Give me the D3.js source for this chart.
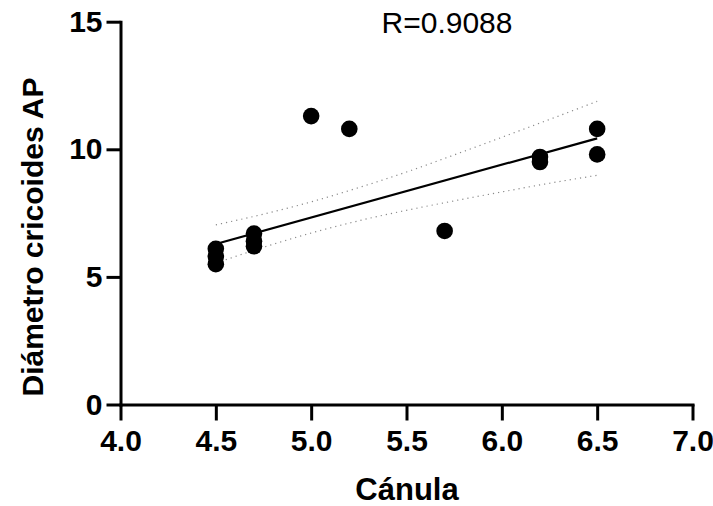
<!DOCTYPE html>
<html>
<head>
<meta charset="utf-8">
<script src="https://cdn.jsdelivr.net/npm/d3@7"></script>
<style>
  body { margin: 0; background: #fff; }
  .axis path, .axis line { stroke: #000; stroke-width: 3px; }
  .axis text { font-family: "Liberation Sans", Arial, sans-serif; font-weight: bold; font-size: 30px; fill: #000; }
</style>
</head>
<body>
<script>
// data
var canula = [4.5, 4.5, 4.5, 4.7, 4.7, 4.7, 5.0, 5.2, 5.7, 6.2, 6.2, 6.5, 6.5]
var diametro = [6.1, 5.8, 5.5, 6.7, 6.4, 6.2, 11.3, 10.8, 6.8, 9.7, 9.5, 10.8, 9.8]

// fitted line and confidence band as drawn
var fit_x = [4.5, 6.5]
var fit_y = [6.29, 10.43]
var band_x = [4.5, 4.75, 5.0, 5.25, 5.5, 5.75, 6.0, 6.25, 6.5]
var band_upper = [7.04, 7.46, 7.94, 8.50, 9.11, 9.78, 10.47, 11.17, 11.88]
var band_lower = [5.54, 6.16, 6.72, 7.20, 7.61, 7.98, 8.33, 8.67, 8.98]

var x_ticks = [4.0, 4.5, 5.0, 5.5, 6.0, 6.5, 7.0]
var y_ticks = [0, 5, 10, 15]
var r_label = 'R=0.9088'

function plot_it() {
    var svgWidth = 713, svgHeight = 506
    var left = 120.5, right = 692.5, top = 21.7, bottom = 404.5
    var font = '"Liberation Sans", Arial, sans-serif'

    var svg = d3.select('body').append('svg').attr('width', svgWidth).attr('height', svgHeight).attr('id', 'svg0')

    var scale_x = d3.scaleLinear().domain([4, 7]).range([left, right])
    var scale_y = d3.scaleLinear().domain([0, 15]).range([bottom, top])

    // confidence band, dotted
    var band_line = d3.line().x(d => scale_x(d[0])).y(d => scale_y(d[1])).curve(d3.curveMonotoneX)
    ;[band_upper, band_lower].forEach(vals => {
        svg.append('path')
            .attr('d', band_line(band_x.map((x, i) => [x, vals[i]])))
            .attr('fill', 'none').attr('stroke', '#8a8a8a')
            .attr('stroke-width', 1.2).attr('stroke-dasharray', '1.2,4')
    })

    // regression line
    svg.append('path')
        .attr('d', d3.line().x(d => scale_x(d[0])).y(d => scale_y(d[1]))(fit_x.map((x, i) => [x, fit_y[i]])))
        .attr('fill', 'none').attr('stroke', '#000').attr('stroke-width', 2.2)

    // points
    svg.selectAll('.pt').data(canula).enter().append('circle')
        .attr('class', 'pt')
        .attr('cx', d => scale_x(d))
        .attr('cy', (d, i) => scale_y(diametro[i]))
        .attr('r', 8.3).attr('fill', '#000')

    // axes
    svg.append('g').attr('class', 'axis').attr('transform', 'translate(0,' + bottom + ')')
        .call(d3.axisBottom(scale_x).tickValues(x_ticks).tickFormat(d3.format('.1f')).tickSizeInner(16).tickSizeOuter(0).tickPadding(9))
    svg.append('g').attr('class', 'axis').attr('transform', 'translate(' + left + ',0)')
        .call(d3.axisLeft(scale_y).tickValues(y_ticks).tickFormat(d3.format('d')).tickSizeInner(14).tickSizeOuter(0).tickPadding(4))
    svg.selectAll('.axis .domain').attr('stroke-linecap', 'square')

    // titles
    svg.append('text').text('Cánula')
        .attr('x', 407).attr('y', 500)
        .attr('text-anchor', 'middle')
        .style('font-family', font).style('font-weight', 'bold').style('font-size', '31px')

    svg.append('text').text('Diámetro cricoides AP')
        .attr('transform', 'translate(43,237) rotate(-90)')
        .attr('text-anchor', 'middle')
        .style('font-family', font).style('font-weight', 'bold').style('font-size', '30px')

    svg.append('text').text(r_label)
        .attr('x', 447).attr('y', 33)
        .attr('text-anchor', 'middle')
        .style('font-family', font).style('font-size', '30px')
}
plot_it()
</script>
</body>
</html>
